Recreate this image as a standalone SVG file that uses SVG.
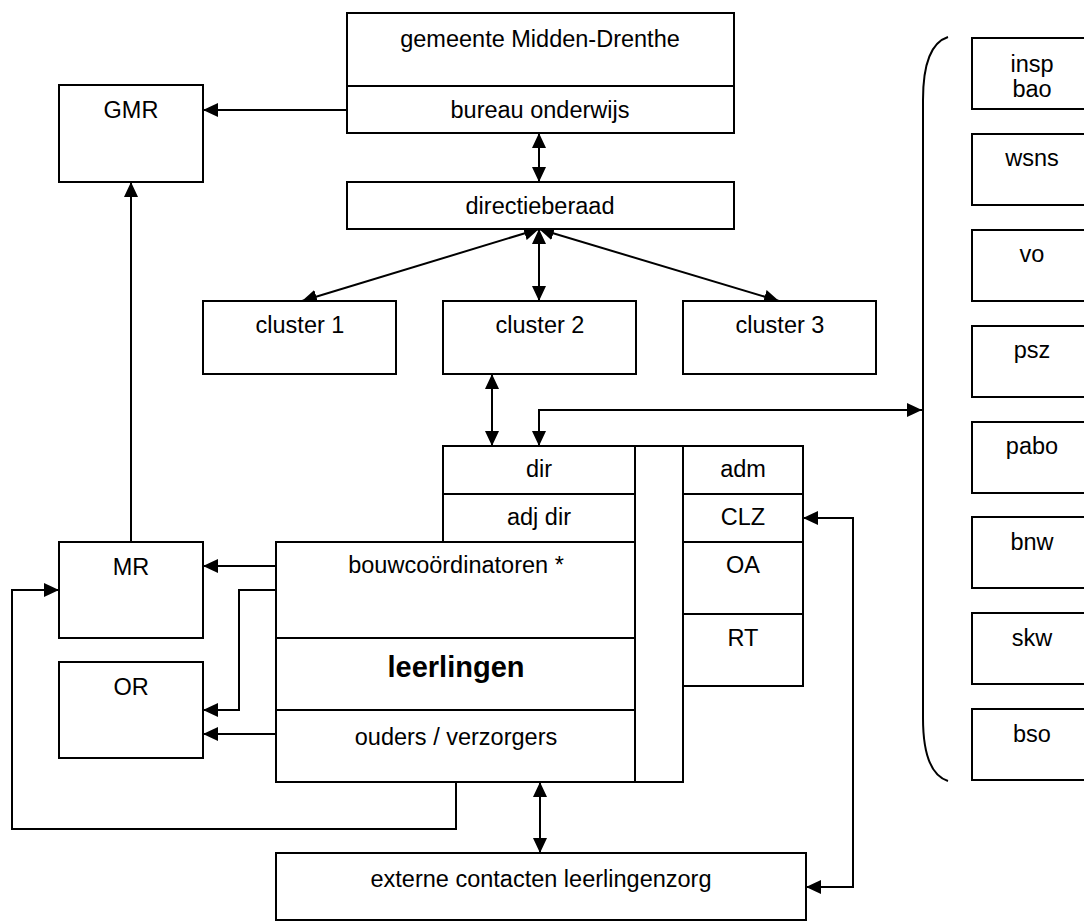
<svg xmlns="http://www.w3.org/2000/svg" width="1084" height="922" viewBox="0 0 1084 922">
<style>
.b{fill:#fff;stroke:#000;stroke-width:2}
.l{fill:none;stroke:#000;stroke-width:2}
text{font-family:"Liberation Sans",Arial,sans-serif;font-size:23.5px;text-anchor:middle;fill:#000}
.bold{font-weight:bold;font-size:29px}
</style>
<defs>
<marker id="a" markerUnits="userSpaceOnUse" markerWidth="15" markerHeight="14" viewBox="0 0 15 14" refX="15" refY="7" orient="auto-start-reverse">
<path d="M0,0 L15,7 L0,14 Z" fill="#000"/>
</marker>
</defs>
<rect width="1084" height="922" fill="#fff"/>
<g id="connectors">
<line class="l" x1="347" y1="110" x2="203" y2="110" marker-end="url(#a)"/>
<line class="l" x1="131" y1="542" x2="131" y2="182" marker-end="url(#a)"/>
<line class="l" x1="539" y1="133" x2="539" y2="182" marker-start="url(#a)" marker-end="url(#a)"/>
<line class="l" x1="539" y1="229" x2="302" y2="301" marker-start="url(#a)" marker-end="url(#a)"/>
<line class="l" x1="539" y1="229" x2="539" y2="301" marker-start="url(#a)" marker-end="url(#a)"/>
<line class="l" x1="539" y1="229" x2="779" y2="301" marker-start="url(#a)" marker-end="url(#a)"/>
<line class="l" x1="492" y1="374" x2="492" y2="446" marker-start="url(#a)" marker-end="url(#a)"/>
<path class="l" d="M539,446 L539,410 L922,410" marker-start="url(#a)" marker-end="url(#a)"/>
<line class="l" x1="540" y1="782" x2="540" y2="853" marker-start="url(#a)" marker-end="url(#a)"/>
<path class="l" d="M806,887 L853,887 L853,518 L803,518" marker-start="url(#a)" marker-end="url(#a)"/>
<line class="l" x1="276" y1="566" x2="203" y2="566" marker-end="url(#a)"/>
<path class="l" d="M276,590 L239,590 L239,710 L203,710" marker-end="url(#a)"/>
<line class="l" x1="276" y1="734" x2="203" y2="734" marker-end="url(#a)"/>
<path class="l" d="M456,782 L456,829 L12,829 L12,590 L59,590" marker-end="url(#a)"/>
<path class="l" d="M948,37 Q923,45 923,100 L923,718 Q923,773 948,781"/>
</g>
<g id="gemeente">
<rect class="b" x="347" y="13" width="387" height="120"/>
<line class="l" x1="347" y1="86" x2="734" y2="86"/>
<text x="540" y="47">gemeente Midden-Drenthe</text>
<text x="540" y="118">bureau onderwijs</text>
</g>
<g id="directieberaad">
<rect class="b" x="347" y="182" width="387" height="47"/>
<text x="540" y="214">directieberaad</text>
</g>
<g id="gmr">
<rect class="b" x="59" y="85" width="144" height="97"/>
<text x="131" y="118">GMR</text>
</g>
<g id="cluster1">
<rect class="b" x="203" y="301" width="193" height="73"/>
<text x="300" y="333">cluster 1</text>
</g>
<g id="cluster2">
<rect class="b" x="443" y="301" width="193" height="73"/>
<text x="540" y="333">cluster 2</text>
</g>
<g id="cluster3">
<rect class="b" x="683" y="301" width="193" height="73"/>
<text x="780" y="333">cluster 3</text>
</g>
<g id="dir">
<rect class="b" x="443" y="446" width="192" height="48"/>
<text x="539" y="477">dir</text>
</g>
<g id="adjdir">
<rect class="b" x="443" y="494" width="192" height="48"/>
<text x="539" y="525">adj dir</text>
</g>
<g id="school">
<rect class="b" x="276" y="542" width="359" height="240"/>
<line class="l" x1="276" y1="638" x2="635" y2="638"/>
<line class="l" x1="276" y1="710" x2="635" y2="710"/>
<text x="456" y="573">bouwcoördinatoren *</text>
<text class="bold" x="456" y="677">leerlingen</text>
<text x="456" y="745">ouders / verzorgers</text>
</g>
<g id="column">
<rect class="b" x="635" y="446" width="48" height="336"/>
</g>
<g id="staff">
<rect class="b" x="683" y="446" width="120" height="240"/>
<line class="l" x1="683" y1="494" x2="803" y2="494"/>
<line class="l" x1="683" y1="542" x2="803" y2="542"/>
<line class="l" x1="683" y1="614" x2="803" y2="614"/>
<text x="743" y="477">adm</text>
<text x="743" y="525">CLZ</text>
<text x="743" y="573">OA</text>
<text x="743" y="646">RT</text>
</g>
<g id="mr">
<rect class="b" x="59" y="542" width="144" height="96"/>
<text x="131" y="575">MR</text>
</g>
<g id="or">
<rect class="b" x="59" y="662" width="144" height="96"/>
<text x="131" y="695">OR</text>
</g>
<g id="extern">
<rect class="b" x="276" y="853" width="530" height="67"/>
<text x="541" y="887">externe contacten leerlingenzorg</text>
</g>
<g id="insp">
<rect class="b" x="972" y="38" width="122" height="71"/>
<text x="1032" y="72">insp</text>
<text x="1032" y="97">bao</text>
</g>
<g id="wsns">
<rect class="b" x="972" y="134" width="122" height="71"/>
<text x="1032" y="166">wsns</text>
</g>
<g id="vo">
<rect class="b" x="972" y="230" width="122" height="71"/>
<text x="1032" y="262">vo</text>
</g>
<g id="psz">
<rect class="b" x="972" y="326" width="122" height="71"/>
<text x="1032" y="358">psz</text>
</g>
<g id="pabo">
<rect class="b" x="972" y="422" width="122" height="71"/>
<text x="1032" y="454">pabo</text>
</g>
<g id="bnw">
<rect class="b" x="972" y="517" width="122" height="71"/>
<text x="1032" y="550">bnw</text>
</g>
<g id="skw">
<rect class="b" x="972" y="613" width="122" height="71"/>
<text x="1032" y="646">skw</text>
</g>
<g id="bso">
<rect class="b" x="972" y="709" width="122" height="71"/>
<text x="1032" y="742">bso</text>
</g>
</svg>
